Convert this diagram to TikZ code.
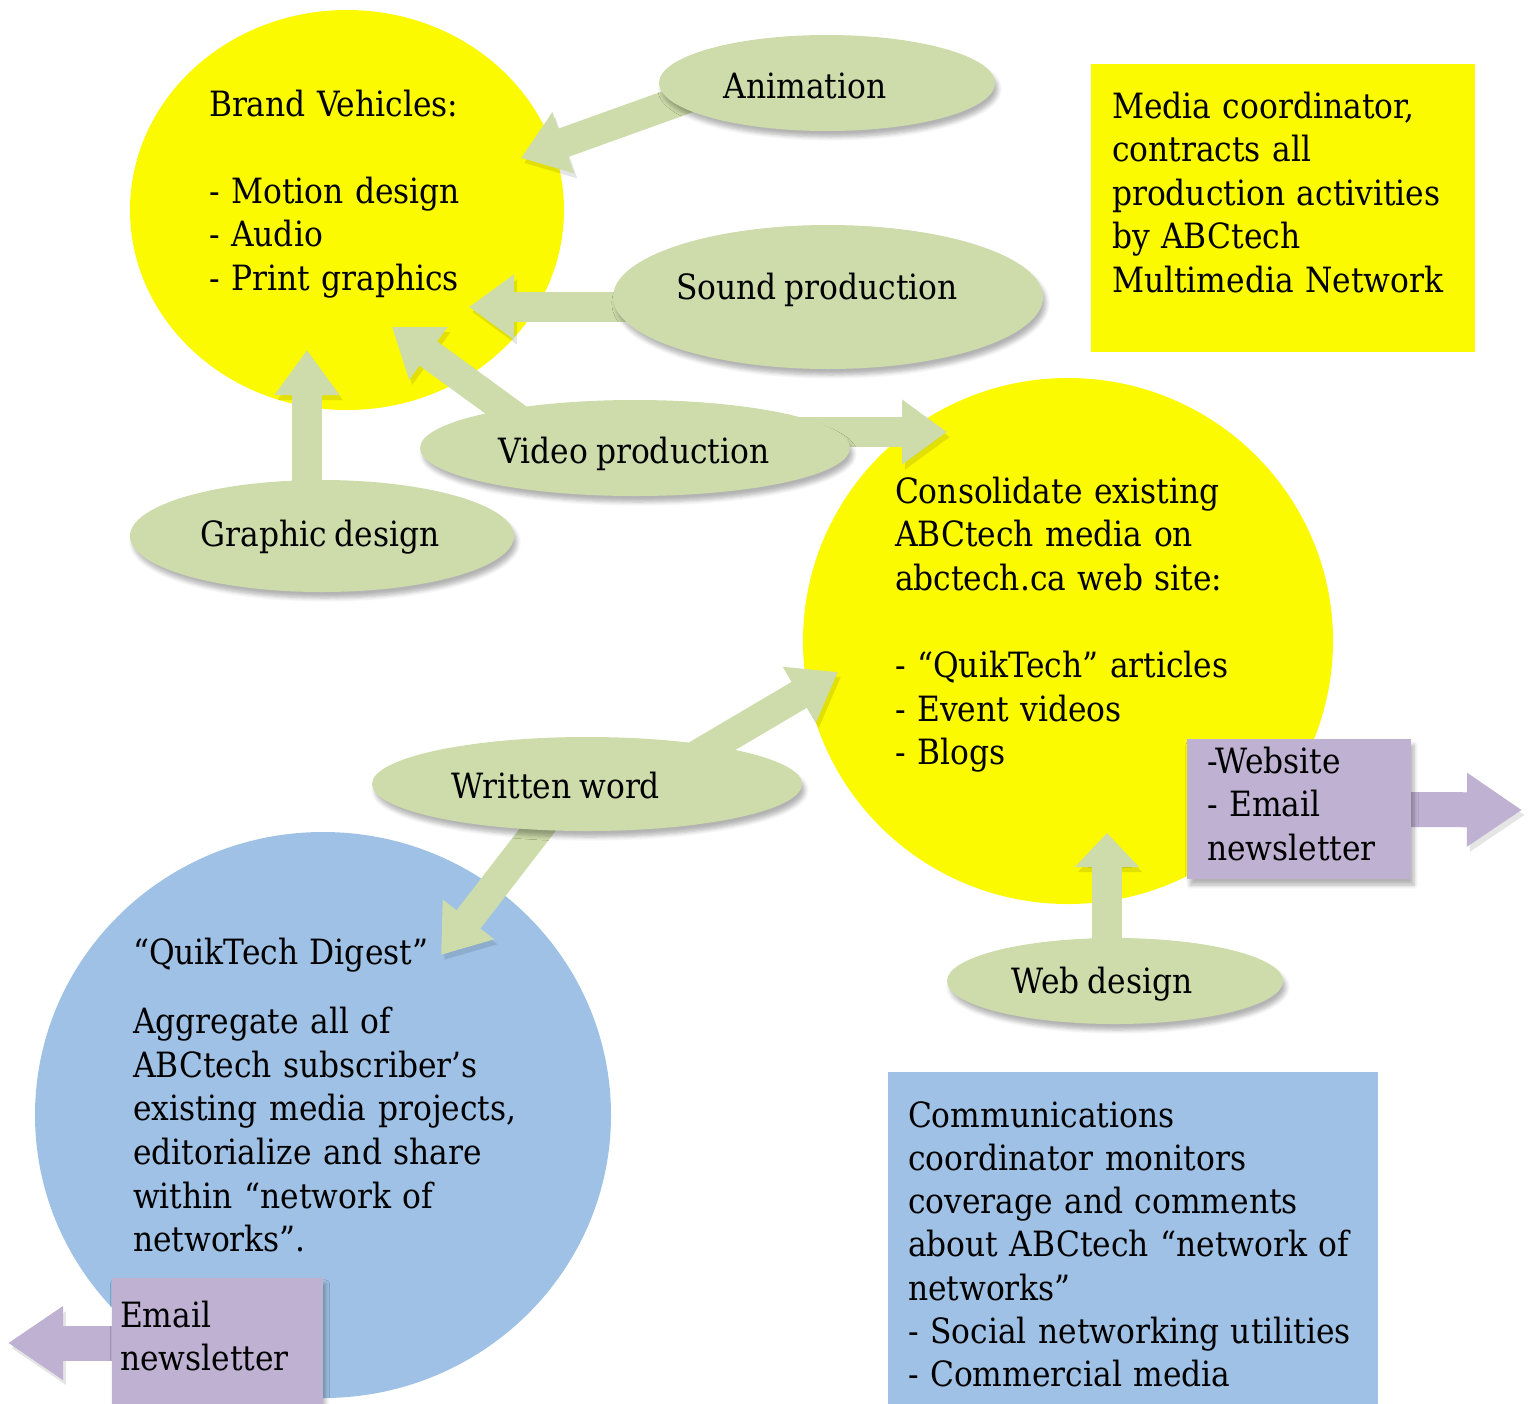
\documentclass[tikz,border=0pt]{standalone}
\usepackage{fontspec}
\setmainfont{DejaVu Serif Condensed}[WordSpace=0.8]
\usetikzlibrary{arrows.meta,shapes.geometric,shadows.blur}
\definecolor{yel}{RGB}{252,250,0}
\definecolor{grn}{RGB}{205,220,170}
\definecolor{blu}{RGB}{158,193,229}
\definecolor{pur}{RGB}{190,177,210}
\tikzset{
  every node/.style={inner sep=0pt, outer sep=0pt},
  txt/.style={font=\fontsize{17.4pt}{21.8pt}\selectfont, text width=#1, align=left, anchor=base west},
  lbl/.style={font=\fontsize{17.4pt}{21.8pt}\selectfont, anchor=base},
  softsh/.style={blur shadow={shadow xshift=1.5pt, shadow yshift=-3pt, shadow blur steps=6, shadow opacity=30}},
  bubble/.style={ellipse, fill=grn, softsh},
  bigcirc/.style={ellipse, fill=#1},
  box/.style={rectangle, fill=#1},
  garrow/.style={draw=grn, line width=15pt, -{Triangle[length=22.5pt,width=31pt]},
    preaction={draw=black, opacity=0.10, transform canvas={xshift=1.5pt,yshift=-2.5pt}}},
  parrow/.style={draw=pur, line width=17.5pt, -{Triangle[length=27.5pt,width=35pt]},
    preaction={draw=black, opacity=0.10, transform canvas={xshift=1.5pt,yshift=-2.5pt}}},
}
\begin{document}
\begin{tikzpicture}[x=0.5pt,y=-0.5pt]
\useasboundingbox (0,0) rectangle (1530,1403);
% large shapes
\node[bigcirc=yel, minimum width=217pt, minimum height=200pt] (brand) at (347,210) {};
\node[bigcirc=yel, minimum width=265pt, minimum height=263pt] (cons) at (1068,641) {};
\node[bigcirc=blu, minimum width=288pt, minimum height=283pt] (dig) at (323,1115) {};
\node[box=yel, minimum width=192pt, minimum height=144pt] (media) at (1283,208) {};
\node[box=blu, minimum width=245pt, minimum height=166pt] (comm) at (1133,1238) {};
% green ellipses (positions)
\coordinate (animC) at (827,83);
\coordinate (soundC) at (828,297);
\coordinate (videoC) at (635,448);
\coordinate (graphC) at (322,536);
\coordinate (writC) at (587,784);
\coordinate (webC) at (1115,981);
% arrow tips
\coordinate (tA) at (521,158);
\coordinate (tB) at (469,307);
\coordinate (tC) at (392,327);
\coordinate (tD) at (307,350);
\coordinate (tE) at (947,432);
\coordinate (tF) at (838,672);
\coordinate (tG) at (441,955);
\coordinate (tW) at (1107,833);
\coordinate (tS) at (1522,810);
\coordinate (tM) at (8,1343);
% purple boxes positions
\coordinate (siteC) at (1299,809);
\coordinate (mailC) at (217,1343);
% green arrows
\draw[garrow] ([shift={(-23.5pt,9pt)}]animC) -- (tA);
\draw[garrow] ([yshift=-5pt]soundC) -- (tB);
\draw[garrow] ([xshift=-38.5pt]videoC) -- (tC);
\draw[garrow] ([xshift=-7.5pt]graphC) -- (tD);
\draw[garrow] ([yshift=8pt]videoC) -- (tE);
\draw[garrow] ([xshift=30.5pt]writC) -- (tF);
\draw[garrow] ([xshift=-7pt]writC) -- (tG);
\draw[garrow, -{Triangle[length=17pt,width=31pt]}] ([xshift=-4pt]webC) -- (tW);
% purple arrows
\draw[parrow] (siteC) -- (tS);
\draw[parrow] (mailC) -- (tM);
% purple boxes
\node[box=pur, softsh, minimum width=112pt, minimum height=70pt] (site) at (siteC) {};
\node[box=pur, softsh, minimum width=105.5pt, minimum height=70pt] (mail) at ([yshift=-2.5pt]mailC) {};
% green ellipses
\node[bubble, minimum width=168pt, minimum height=48pt] (anim) at (animC) {};
\node[bubble, minimum width=215pt, minimum height=72pt] (sound) at (soundC) {};
\node[bubble, minimum width=215pt, minimum height=48pt] (video) at (videoC) {};
\node[bubble, minimum width=192pt, minimum height=56pt] (graph) at (graphC) {};
\node[bubble, minimum width=215pt, minimum height=47pt] (writ) at (writC) {};
\node[bubble, minimum width=168pt, minimum height=43pt] (web) at (webC) {};
% texts
\node[lbl] (animT) at (805,98) {Animation};
\node[lbl] (soundT) at (817,299) {Sound production};
\node[lbl] (videoT) at (634,463) {Video production};
\node[lbl] (graphT) at (320,546) {Graphic design};
\node[lbl] (writT) at (556,798) {Written word};
\node[lbl] (webT) at (1102,993) {Web design};
\node[txt=260pt] (brandT) at (209,116) {Brand Vehicles:\\[21.8pt]- Motion design\\- Audio\\- Print graphics};
\node[txt=260pt] (consT) at (895,503) {Consolidate existing\\ABCtech media on\\abctech.ca web site:\\[21.8pt]- “QuikTech” articles\\- Event videos\\- Blogs};
\node[txt=120pt] (siteT) at (1207,773) {-Website\\- Email\\newsletter};
\node[txt=200pt] (mediaT) at (1112,118) {Media coordinator,\\contracts all\\production activities\\by ABCtech\\Multimedia Network};
\node[txt=240pt, font=\fontsize{17.4pt}{21.65pt}\selectfont] (commT) at (908,1127) {Communications\\coordinator monitors\\coverage and comments\\about ABCtech “network of\\networks”\\- Social networking utilities\\- Commercial media};
\node[txt=260pt] (digT) at (133,964) {“QuikTech Digest”\\[13pt]Aggregate all of\\ABCtech subscriber’s\\existing media projects,\\editorialize and share\\within “network of\\networks”.};
\node[txt=120pt] (mailT) at (120,1327) {Email\\newsletter};
\end{tikzpicture}
\end{document}
